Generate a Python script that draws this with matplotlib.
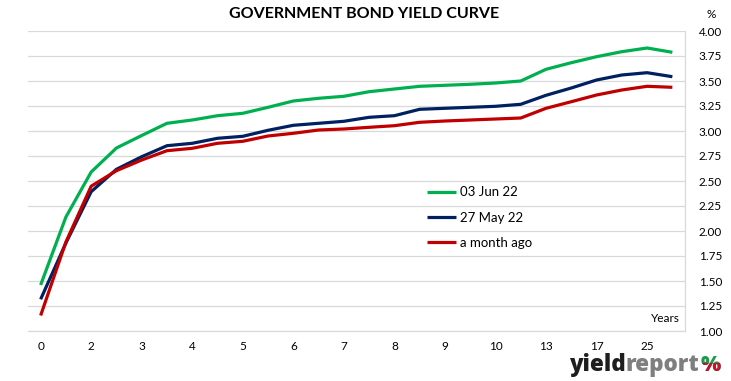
import matplotlib
matplotlib.use("Agg")
import numpy as np
from matplotlib import pyplot as plt
from matplotlib.patches import Rectangle

plt.rcParams['font.family'] = ['Lato', 'DejaVu Sans']

# maturity categories (only every second one is labelled on the chart)
categories = ["0", "1", "2", "2.5", "3", "3.5", "4", "4.5", "5", "5.5", "6", "6.5", "7",
              "7.5", "8", "8.5", "9", "9.5", "10", "12", "13", "15", "17", "20", "25", "30"]

jun_03 = [1.46, 2.14, 2.59, 2.83, 2.955, 3.077, 3.11, 3.153, 3.177, 3.237, 3.30, 3.327, 3.347,
          3.393, 3.42, 3.447, 3.457, 3.467, 3.48, 3.50, 3.617, 3.683, 3.743, 3.793, 3.83, 3.787]
may_27 = [1.317, 1.88, 2.393, 2.617, 2.743, 2.853, 2.877, 2.927, 2.947, 3.007, 3.057, 3.077, 3.097,
          3.137, 3.153, 3.217, 3.227, 3.237, 3.247, 3.267, 3.357, 3.43, 3.51, 3.56, 3.583, 3.543]
month_ago = [1.155, 1.89, 2.448, 2.603, 2.71, 2.803, 2.827, 2.877, 2.897, 2.95, 2.977, 3.01, 3.02,
             3.037, 3.053, 3.087, 3.10, 3.11, 3.12, 3.13, 3.227, 3.293, 3.36, 3.41, 3.447, 3.437]

series = [("03 Jun 22", jun_03, "#00b050"),
          ("27 May 22", may_27, "#002060"),
          ("a month ago", month_ago, "#c00000")]

fig = plt.figure(figsize=(7.31, 3.81), dpi=100)
ax = fig.add_axes([28 / 731, 50 / 381, 657 / 731, 300 / 381])

x = np.arange(len(categories))
for name, vals, col in series:
    ax.plot(x, vals, color=col, lw=2.3, label=name, solid_capstyle="butt")

ax.set_xlim(-0.5, len(categories) - 0.5)
ax.set_ylim(1.0, 4.0)
ax.set_yticks(np.arange(1.0, 4.01, 0.25))
ax.yaxis.tick_right()
ax.set_yticklabels([f"{v:.2f}" for v in np.arange(1.0, 4.01, 0.25)])
ax.set_xticks(x[::2])
ax.set_xticklabels(categories[::2])
ax.tick_params(axis="both", length=0, labelsize=8.5, colors="#000000")
ax.tick_params(axis="x", pad=7)
ax.tick_params(axis="y", pad=10)
ax.grid(axis="y", color="#d9d9d9", lw=0.9)
ax.set_axisbelow(True)
for side in ["left", "top"]:
    ax.spines[side].set_visible(False)
ax.spines["right"].set_color("#d9d9d9")
ax.spines["bottom"].set_color("#d9d9d9")
ax.spines["right"].set_linewidth(0.9)
ax.spines["bottom"].set_linewidth(0.9)

ax.legend(loc="upper left", bbox_to_anchor=(0.608, 0.482), frameon=False, fontsize=9.5,
          handlelength=2.2, handletextpad=0.25, labelspacing=1.0, borderpad=0, borderaxespad=0)

ax.text(0.992, 0.04, "Years", transform=ax.transAxes, ha="right", va="center", fontsize=8.5)

fig.text(364 / 731, 1 - 14 / 381, "GOVERNMENT BOND YIELD CURVE", ha="center", va="center",
         fontsize=11.5, fontweight="bold")
fig.text(711 / 731, 1 - 14 / 381, "%", ha="center", va="center", fontsize=8.5)

# logo: "yield" dark + "report" grey, fitted to ~130 px wide
renderer = fig.canvas.get_renderer()
logo_font = ["Open Sans", "DejaVu Sans"]
base = 1 - 371 / 381
size = 19
probe = fig.text(0, 0, "yieldreport", fontsize=size, fontweight="black", family=logo_font)
w = probe.get_window_extent(renderer).width
probe.remove()
size = size * 130 / w
t1 = fig.text(569 / 731, base, "yield", ha="left", va="baseline", fontsize=size,
              fontweight="black", color="#1e1e1e", family=logo_font)
bb = t1.get_window_extent(renderer)
fig.text(bb.x1 / 731, base, "report", ha="left", va="baseline", fontsize=size,
         fontweight="black", color="#7f7f7f", family=logo_font)
pg = fig.text(711 / 731, base, "%", ha="center", va="baseline", fontsize=size * 0.95,
              fontweight="black", color="#1a9a4a", family=logo_font)
pr = fig.text(711 / 731, base, "%", ha="center", va="baseline", fontsize=size * 0.95,
              fontweight="black", color="#c8102e", family=logo_font)
clip = Rectangle((0, 0), 1, 1 - 363 / 381, transform=fig.transFigure, visible=False)
fig.add_artist(clip)
pr.set_clip_path(clip)

fig.savefig("out.png", dpi=100)
